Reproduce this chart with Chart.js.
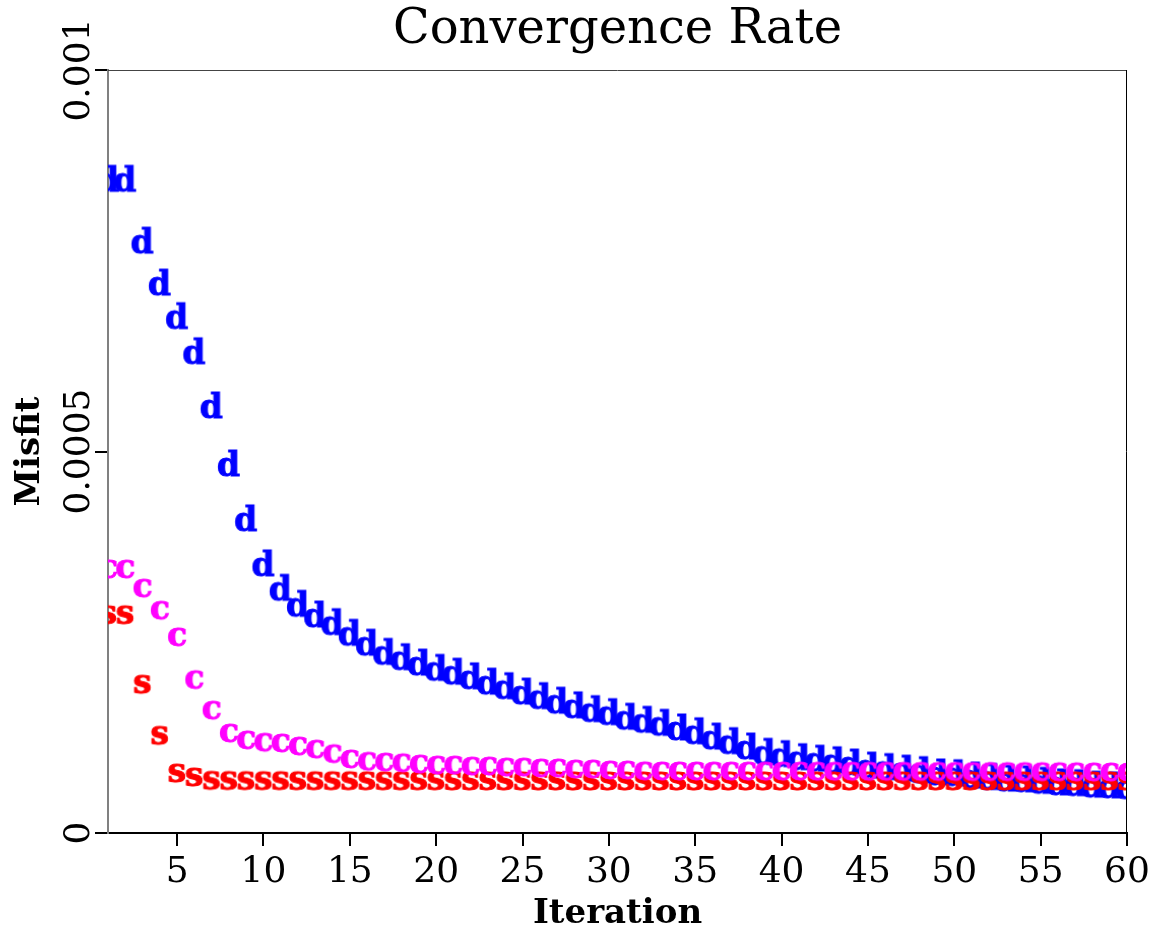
<!DOCTYPE html>
<html>
<head>
<meta charset="utf-8">
<script src="https://cdn.jsdelivr.net/npm/chart.js@4"></script>
<style>
  html, body { margin: 0; padding: 0; background: #fff; }
  #wrap { width: 1157px; height: 932px; }
</style>
</head>
<body>
<div id="wrap"><canvas id="chart" width="1157" height="932"></canvas></div>
<script>
// Iteration numbers (x) and misfit per iteration for the three runs
const iterations = [
  1, 2, 3, 4, 5, 6, 7, 8, 9, 10, 11, 12, 13, 14, 15, 16, 17, 18, 19, 20,
  21, 22, 23, 24, 25, 26, 27, 28, 29, 30, 31, 32, 33, 34, 35, 36, 37, 38, 39, 40,
  41, 42, 43, 44, 45, 46, 47, 48, 49, 50, 51, 52, 53, 54, 55, 56, 57, 58, 59, 60
];

const misfitD = [
  0.000858, 0.000858, 0.000777, 0.000722, 0.000678, 0.000632, 0.000561, 0.000485, 0.000413, 0.000354,
  0.000322, 0.000301, 0.000287, 0.000277, 0.000263, 0.000250, 0.000238, 0.000231, 0.000224, 0.000217,
  0.000212, 0.000206, 0.000199, 0.000193, 0.000186, 0.000180, 0.000174, 0.000168, 0.000163, 0.000159,
  0.000153, 0.000149, 0.000145, 0.000139, 0.000134, 0.000127, 0.000121, 0.000114, 0.000107, 0.000104,
  0.000100, 0.000098, 0.000096, 0.000093, 0.000089, 0.000087, 0.000085, 0.000083, 0.000080, 0.000079,
  0.000076, 0.000074, 0.000072, 0.000071, 0.000069, 0.000067, 0.000066, 0.000064, 0.000063, 0.000062
];

const misfitC = [
  0.000346, 0.000346, 0.000321, 0.000292, 0.000257, 0.000201, 0.000161, 0.000131, 0.000122, 0.000119,
  0.000118, 0.000114, 0.000110, 0.000104, 0.000097, 0.000094, 0.000093, 0.000092, 0.0000904, 0.0000891,
  0.0000891, 0.0000878, 0.0000878, 0.0000865, 0.0000865, 0.0000852, 0.0000852, 0.0000839, 0.0000839, 0.0000826,
  0.0000826, 0.0000815, 0.0000813, 0.0000813, 0.0000813, 0.0000812, 0.0000812, 0.0000812, 0.0000811, 0.0000811,
  0.0000811, 0.0000810, 0.0000810, 0.0000810, 0.0000809, 0.0000809, 0.0000808, 0.0000808, 0.0000807, 0.0000807,
  0.0000806, 0.0000806, 0.0000805, 0.0000805, 0.0000804, 0.0000803, 0.0000802, 0.0000801, 0.0000800, 0.0000800
];

const misfitS = [
  0.000286, 0.000286, 0.000195, 0.000128, 0.0000786, 0.0000734, 0.0000690, 0.0000688, 0.0000687, 0.0000686,
  0.0000686, 0.0000685, 0.0000685, 0.0000685, 0.0000685, 0.0000684, 0.0000684, 0.0000684, 0.0000684, 0.0000684,
  0.0000683, 0.0000683, 0.0000683, 0.0000683, 0.0000683, 0.0000683, 0.0000683, 0.0000682, 0.0000682, 0.0000682,
  0.0000682, 0.0000682, 0.0000682, 0.0000682, 0.0000682, 0.0000682, 0.0000682, 0.0000682, 0.0000682, 0.0000682,
  0.0000682, 0.0000682, 0.0000682, 0.0000682, 0.0000682, 0.0000682, 0.0000683, 0.0000683, 0.0000683, 0.0000683,
  0.0000683, 0.0000683, 0.0000683, 0.0000683, 0.0000683, 0.0000683, 0.0000683, 0.0000683, 0.0000683, 0.0000683
];

const xTickValues = [5, 10, 15, 20, 25, 30, 35, 40, 45, 50, 55, 60];
const yTickValues = [0, 0.0005, 0.001];
const yTickLabels = ['0', '0.0005', '0.001'];

const FONT = '"DejaVu Serif", "Liberation Serif", serif';
const MARK_FONT = 'bold 33px "DejaVu Serif", "Liberation Serif", serif';

// A letter drawn on a small canvas, used as the point marker
function letterMarker(ch, color) {
  const cv = document.createElement('canvas');
  cv.width = 46; cv.height = 46;
  const g = cv.getContext('2d');
  g.font = MARK_FONT;
  g.fillStyle = color;
  g.strokeStyle = color;
  g.lineWidth = 1;
  const m = g.measureText(ch);
  const w = m.actualBoundingBoxLeft + m.actualBoundingBoxRight;
  const h = m.actualBoundingBoxAscent + m.actualBoundingBoxDescent;
  const tx = cv.width / 2 - w / 2 + m.actualBoundingBoxLeft;
  const ty = cv.height / 2 - h / 2 + m.actualBoundingBoxAscent;
  g.fillText(ch, tx, ty);
  g.strokeText(ch, tx, ty);
  return cv;
}

const toPoints = (vals) => iterations.map((n, i) => ({ x: n, y: vals[i] }));

// Top and right frame lines of the plot box
const framePlugin = {
  id: 'frame',
  afterDraw(chart) {
    const { ctx, chartArea: a } = chart;
    ctx.save();
    ctx.lineWidth = 1;
    ctx.strokeStyle = '#444';
    ctx.beginPath();
    ctx.moveTo(a.left, a.top + 0.5);
    ctx.lineTo(a.right, a.top + 0.5);
    ctx.stroke();
    ctx.strokeStyle = '#000';
    ctx.beginPath();
    ctx.moveTo(a.right - 0.5, a.top);
    ctx.lineTo(a.right - 0.5, a.bottom);
    ctx.stroke();
    ctx.restore();
  }
};

new Chart(document.getElementById('chart'), {
  type: 'scatter',
  data: {
    datasets: [
      { label: 'd', data: toPoints(misfitD), pointStyle: letterMarker('d', '#0000ff'), pointRadius: 10, order: 2, clip: 0 },
      { label: 's', data: toPoints(misfitS), pointStyle: letterMarker('s', '#ff0000'), pointRadius: 10, order: 1, clip: 0 },
      { label: 'c', data: toPoints(misfitC), pointStyle: letterMarker('c', '#ff00ff'), pointRadius: 10, order: 0, clip: 0 }
    ]
  },
  options: {
    responsive: false,
    animation: false,
    events: [],
    devicePixelRatio: 1,
    layout: { padding: 0 },
    plugins: { legend: { display: false }, title: { display: false }, tooltip: { enabled: false } },
    scales: {
      x: {
        type: 'linear', position: 'bottom', min: 1, max: 60,
        afterBuildTicks: (s) => { s.ticks = xTickValues.map(v => ({ value: v })); },
        afterFit: (s) => { s.height = 99; },
        ticks: { color: '#000', font: { family: FONT, size: 36 }, padding: 5, autoSkip: false,
                 maxRotation: 0, minRotation: 0, callback: (v) => String(v) },
        grid: { drawOnChartArea: false, color: '#000', lineWidth: 2, tickLength: 13 },
        border: { display: true, color: '#000', width: 2 },
        title: { display: true, text: 'Iteration', color: '#000',
                 font: { family: FONT, size: 34, weight: 'bold' }, padding: { top: 0, bottom: -3 } }
      },
      xTop: {
        type: 'linear', position: 'top', min: 1, max: 60,
        afterFit: (s) => { s.height = 70; },
        ticks: { display: false },
        grid: { display: false, drawTicks: false },
        border: { display: false },
        title: { display: true, text: 'Convergence Rate', color: '#000',
                 font: { family: FONT, size: 48 }, padding: { top: 2, bottom: 0 } }
      },
      y: {
        type: 'linear', position: 'left', min: 0, max: 0.001,
        afterBuildTicks: (s) => { s.ticks = yTickValues.map(v => ({ value: v })); },
        afterFit: (s) => { s.width = 108; },
        ticks: { color: '#000', font: { family: FONT, size: 36 }, minRotation: 90, maxRotation: 90,
                 crossAlign: 'center', padding: -48, autoSkip: false,
                 callback: (v, i) => yTickLabels[i] },
        grid: { drawOnChartArea: false, color: '#000', lineWidth: 2, tickLength: 13 },
        border: { display: true, color: '#808080', width: 2 },
        title: { display: true, text: 'Misfit', color: '#000',
                 font: { family: FONT, size: 34, weight: 'bold' }, padding: { top: 10, bottom: 0 } }
      },
      yRight: {
        type: 'linear', position: 'right', min: 0, max: 0.001,
        afterFit: (s) => { s.width = 30; },
        ticks: { display: false },
        grid: { display: false, drawTicks: false },
        border: { display: false }
      }
    }
  },
  plugins: [framePlugin]
});
</script>
</body>
</html>
